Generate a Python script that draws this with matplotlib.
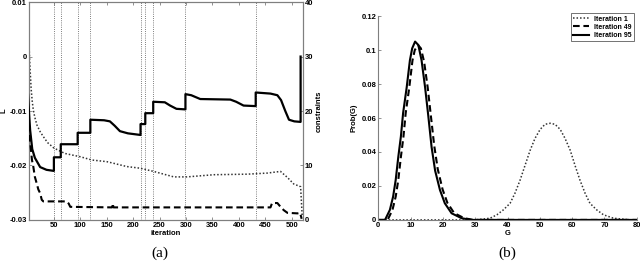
import matplotlib
matplotlib.use("Agg")
import matplotlib.pyplot as plt

# ---------------- data ----------------
# (a) left panel
vline_iters = [50, 63, 95, 119, 214, 223, 238, 299, 432]

L_iter = [1, 2, 3, 4, 5, 7, 9, 11, 14, 18, 24, 30, 38, 50, 71, 100, 122, 150, 163,
          188, 213, 239, 277, 302, 353, 416, 454, 470, 479, 492, 504, 517, 520]
L_vals = [0.0100, 0.0060, 0.0020, -0.0005, -0.0025, -0.0060, -0.0082, -0.0098,
          -0.0112, -0.0126, -0.0138, -0.0147, -0.0158, -0.0168, -0.0178, -0.0184,
          -0.0190, -0.0193, -0.0196, -0.0202, -0.0205, -0.0211, -0.0221, -0.0221,
          -0.0217, -0.0216, -0.0214, -0.0212, -0.0211, -0.0222, -0.0234, -0.0239,
          -0.0293]

solid_iter = [1, 3, 5, 9, 14, 24, 36, 50, 50, 63, 63, 95, 95, 119, 119, 145, 156,
              165, 175, 190, 214, 214, 223, 223, 238, 238, 260, 270, 282, 299, 299,
              310, 327, 384, 395, 409, 432, 432, 460, 473, 480, 488, 495, 505, 517, 517]
solid_vals = [23.0, 19.5, 16.5, 13.0, 11.4, 9.7, 9.2, 9.0, 11.5, 11.5, 13.9, 13.9,
              16.0, 16.0, 18.4, 18.3, 18.1, 17.3, 16.3, 15.9, 15.6, 17.6, 17.6, 19.6,
              19.6, 21.7, 21.6, 21.0, 20.4, 20.3, 23.1, 22.9, 22.2, 22.1, 21.7, 21.0,
              20.9, 23.4, 23.2, 22.9, 22.0, 20.0, 18.4, 18.1, 18.0, 30.0]

dash_iter = [1, 3, 5.7, 8.5, 11, 14, 17.5, 20.5, 24, 27, 30, 74, 78, 81, 160, 161,
             163, 460, 463, 473, 479, 485, 492, 511, 516, 519]
dash_vals = [17.5, 16.5, 13.8, 11.0, 9.8, 7.9, 6.7, 5.6, 4.9, 3.7, 3.4, 3.4, 3.0,
             2.4, 2.3, 3.0, 2.3, 2.3, 3.1, 3.1, 2.4, 1.8, 1.3, 1.2, 1.3, 0.2]

# (b) right panel
G1 = [0, 30, 34.6, 36.7, 38.7, 40.8, 42.3, 43.9, 45.4, 47.0, 48.5, 50.1, 51.6, 53.2,
      54.7, 56.3, 57.8, 59.4, 60.9, 62.4, 64.0, 65.5, 67.6, 69.7, 72.8, 78, 80]
P1 = [0, 0, 0.001, 0.003, 0.0059, 0.0098, 0.0157, 0.0235, 0.032, 0.041, 0.048,
      0.0533, 0.0563, 0.0569, 0.0563, 0.0533, 0.048, 0.041, 0.032, 0.0235, 0.0157,
      0.0098, 0.0059, 0.003, 0.001, 0, 0]

G49 = [0, 2.9, 4.4, 5.4, 6.2, 7.0, 7.8, 8.5, 9.6, 10.6, 11.3, 12.3, 13.2, 14.2, 15.3,
       16.3, 17.3, 18.4, 19.9, 21.4, 23.5, 26.6, 29.5, 80]
P49 = [0, 0, 0.0059, 0.0137, 0.0235, 0.037, 0.049, 0.063, 0.078, 0.094, 0.100, 0.103,
       0.101, 0.093, 0.078, 0.061, 0.044, 0.030, 0.018, 0.010, 0.004, 0.001, 0, 0]

G95 = [0, 2.1, 3.6, 4.6, 5.4, 6.2, 7.0, 7.7, 8.8, 9.8, 10.5, 11.4, 12.4, 13.4, 14.5,
       15.5, 16.5, 17.6, 19.1, 20.6, 22.7, 25.8, 28.8, 80]
P95 = [0, 0, 0.0059, 0.0137, 0.0235, 0.037, 0.049, 0.063, 0.078, 0.094, 0.101, 0.105,
       0.103, 0.094, 0.078, 0.061, 0.043, 0.029, 0.0176, 0.0098, 0.0039, 0.001, 0, 0]

legend_labels = ["Iteration 1", "Iteration 49", "Iteration 95"]

# ---------------- styling ----------------
tick_font = dict(family="Liberation Sans", weight="bold", size=5.5)
spine_col = "#7f7f7f"
FP = matplotlib.font_manager.FontProperties

fig = plt.figure(figsize=(6.4, 2.64), dpi=100)

# ---------- panel (a) ----------
ax = fig.add_axes([0.045, 0.167, 0.428, 0.825])
ax2 = ax.twinx()
ax.set_xlim(2.5, 521)
ax.set_ylim(-0.03, 0.01)
ax2.set_ylim(0, 40)

for v in vline_iters:
    ax.axvline(v, color="#555555", lw=0.6, ls=(0, (1, 1.6)), zorder=1)

ax.plot(L_iter, L_vals, color="#333333", lw=1.1, ls=(0, (1, 1.3)), zorder=3)
ax2.plot(solid_iter, solid_vals, color="black", lw=1.6, zorder=3)
ax2.plot(dash_iter, dash_vals, color="black", lw=1.5, ls=(0, (3.2, 1.8)), zorder=3)

ax.set_xticks(range(50, 501, 50))
ax.set_yticks([-0.03, -0.02, -0.01, 0, 0.01])
ax.set_yticklabels(["-0.03", "-0.02", "-0.01", "0", "0.01"])
ax2.set_yticks([0, 10, 20, 30, 40])
for a in (ax, ax2):
    for s in a.spines.values():
        s.set_color(spine_col)
        s.set_linewidth(0.8)
ax.tick_params(axis="both", direction="in", length=2.5, width=0.6, color=spine_col,
               pad=1.5, top=True, right=False)
ax2.tick_params(axis="y", direction="in", length=2.5, width=0.6, color=spine_col, pad=1.5)
for lab in ax.get_xticklabels() + ax.get_yticklabels() + ax2.get_yticklabels():
    lab.set_fontproperties(FP(**tick_font))

ax.set_xlabel("iteration", fontdict=tick_font, labelpad=1)
ax.set_ylabel("L", fontdict=tick_font)
ax.yaxis.set_label_coords(-0.078, 0.5)
ax2.set_ylabel("constraints", fontdict=tick_font, labelpad=2)
fig.text(0.25, 0.04, "(a)", family="Liberation Serif", size=11, ha="center", va="center")

# ---------- panel (b) ----------
bx = fig.add_axes([0.591, 0.167, 0.404, 0.772])
bx.set_xlim(0, 80)
bx.set_ylim(0, 0.12)
l1, = bx.plot(G1, P1, color="#333333", lw=1.1, ls=(0, (1, 1.3)))
l2, = bx.plot(G49, P49, color="black", lw=1.5, ls=(0, (3.2, 1.8)))
l3, = bx.plot(G95, P95, color="black", lw=1.5)
bx.set_xticks(range(0, 81, 10))
bx.set_yticks([0, 0.02, 0.04, 0.06, 0.08, 0.1, 0.12])
bx.set_yticklabels(["0", "0.02", "0.04", "0.06", "0.08", "0.1", "0.12"])
bx.spines["top"].set_visible(False)
bx.spines["right"].set_visible(False)
for s in ("left", "bottom"):
    bx.spines[s].set_color(spine_col)
    bx.spines[s].set_linewidth(0.8)
bx.tick_params(direction="in", length=2.5, width=0.6, color=spine_col, pad=1.5)
for lab in bx.get_xticklabels() + bx.get_yticklabels():
    lab.set_fontproperties(FP(**tick_font))
bx.set_xlabel("G", fontdict=tick_font, labelpad=1)
bx.set_ylabel("Prob(G)", fontdict=tick_font, labelpad=3)
leg = bx.legend([l1, l2, l3], legend_labels, loc="upper right",
                bbox_to_anchor=(0.995, 1.02), prop=FP(**dict(tick_font, size=5)),
                frameon=True, fancybox=False, handlelength=2.2, handletextpad=0.8,
                borderpad=0.35, labelspacing=0.15, borderaxespad=0.2)
leg.get_frame().set_edgecolor("#333333")
leg.get_frame().set_linewidth(0.6)
fig.text(0.792, 0.04, "(b)", family="Liberation Serif", size=11, ha="center", va="center")

fig.savefig("out.png", dpi=100)
